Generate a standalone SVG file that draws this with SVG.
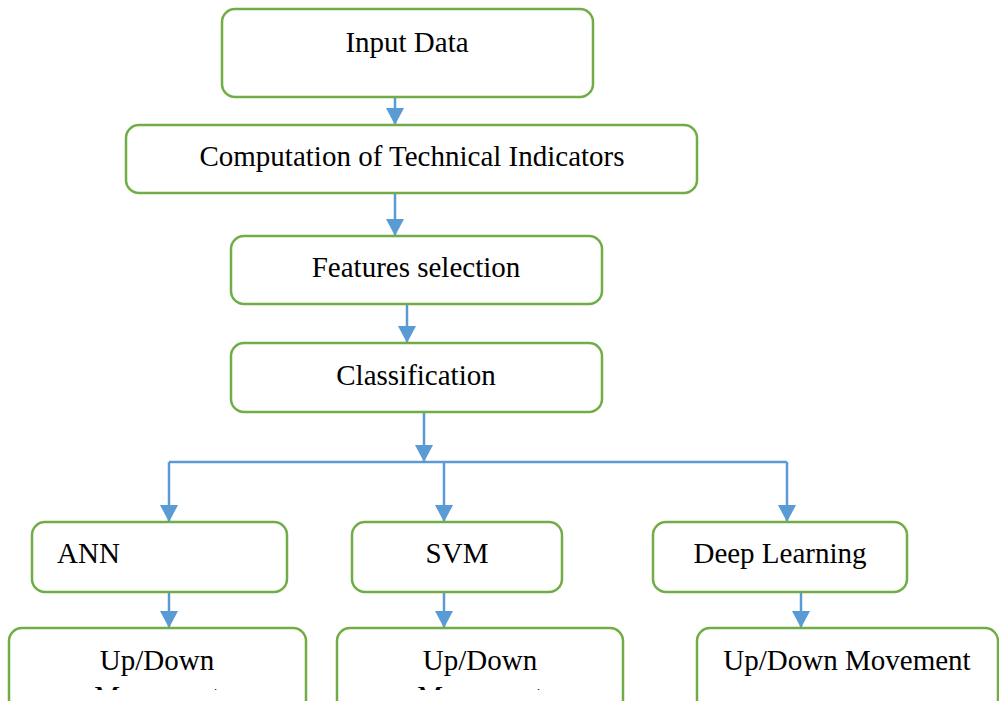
<svg xmlns="http://www.w3.org/2000/svg" width="999" height="701" viewBox="0 0 999 701">
<style>
.box{fill:#fff;stroke:#70AD47;stroke-width:2.5}
.t{font-family:"Liberation Serif",serif;font-size:29px;fill:#000}
.c{stroke:#5B9BD5;stroke-width:2.5;fill:none}
</style>
<defs>
<marker id="ah" markerUnits="userSpaceOnUse" markerWidth="18" markerHeight="19" refX="17" refY="9" orient="auto" overflow="visible">
<path d="M0,0 L17,9 L0,18 Z" fill="#5B9BD5"/>
</marker>
<clipPath id="clipM"><rect x="0" y="600" width="999" height="90"/></clipPath>
</defs>
<rect width="999" height="701" fill="#fff"/>
<g id="connectors">
<path class="c" d="M395,97 V125" marker-end="url(#ah)"/>
<path class="c" d="M395,193 V236" marker-end="url(#ah)"/>
<path class="c" d="M407,304 V343" marker-end="url(#ah)"/>
<path class="c" d="M424,412 V462" marker-end="url(#ah)"/>
<path class="c" d="M169,462 H787"/>
<path class="c" d="M169,462 V522" marker-end="url(#ah)"/>
<path class="c" d="M444,462 V522" marker-end="url(#ah)"/>
<path class="c" d="M787,462 V522" marker-end="url(#ah)"/>
<path class="c" d="M169,592 V628" marker-end="url(#ah)"/>
<path class="c" d="M444,592 V628" marker-end="url(#ah)"/>
<path class="c" d="M801,592 V628" marker-end="url(#ah)"/>
</g>
<g id="input"><rect class="box" x="222" y="9" width="371" height="88" rx="13"/><text class="t" x="407" y="52" text-anchor="middle">Input Data</text></g>
<g id="computation"><rect class="box" x="126" y="125" width="571" height="68" rx="13"/><text class="t" x="412" y="166" text-anchor="middle">Computation of Technical Indicators</text></g>
<g id="features"><rect class="box" x="231" y="236" width="371" height="68" rx="13"/><text class="t" x="416" y="277" text-anchor="middle">Features selection</text></g>
<g id="classification"><rect class="box" x="231" y="343" width="371" height="69" rx="13"/><text class="t" x="416" y="385" text-anchor="middle">Classification</text></g>
<g id="ann"><rect class="box" x="32" y="522" width="255" height="70" rx="13"/><text class="t" x="57" y="563">ANN</text></g>
<g id="svm"><rect class="box" x="352" y="522" width="210" height="70" rx="13"/><text class="t" x="457" y="563" text-anchor="middle">SVM</text></g>
<g id="deep"><rect class="box" x="653" y="522" width="254" height="70" rx="13"/><text class="t" x="780" y="563" text-anchor="middle">Deep Learning</text></g>
<g id="out1"><rect class="box" x="9" y="628" width="297" height="100" rx="13"/><text class="t" x="157" y="670" text-anchor="middle">Up/Down</text><text class="t" x="157" y="706" text-anchor="middle" clip-path="url(#clipM)">Movement</text></g>
<g id="out2"><rect class="box" x="337" y="628" width="286" height="100" rx="13"/><text class="t" x="480" y="670" text-anchor="middle">Up/Down</text><text class="t" x="480" y="706" text-anchor="middle" clip-path="url(#clipM)">Movement</text></g>
<g id="out3"><rect class="box" x="697" y="628" width="301" height="100" rx="13"/><text class="t" x="847" y="670" text-anchor="middle">Up/Down Movement</text></g>
</svg>
